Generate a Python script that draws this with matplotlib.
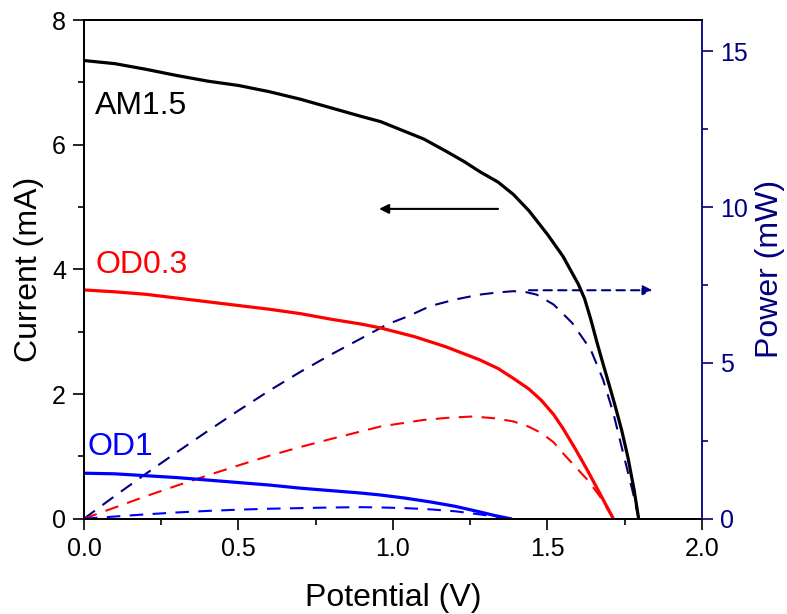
import matplotlib
matplotlib.use("Agg")
import matplotlib.pyplot as plt

plt.rcParams['font.family'] = ['Liberation Sans', 'DejaVu Sans']

NAVY = '#000080'

# AM1.5 illumination: current (mA) and power (mW) vs potential (V)
v_am = [0, 0.1, 0.2, 0.3, 0.4, 0.5, 0.6, 0.7, 0.8, 0.9, 0.96, 1.05, 1.1,
        1.17, 1.23, 1.28, 1.34, 1.39, 1.44, 1.5, 1.55, 1.6, 1.62, 1.64, 1.66,
        1.68, 1.70, 1.72, 1.74, 1.76, 1.78, 1.795]
i_am = [7.35, 7.30, 7.21, 7.11, 7.02, 6.95, 6.85, 6.73, 6.59, 6.45, 6.37,
        6.19, 6.09, 5.90, 5.73, 5.57, 5.40, 5.20, 4.94, 4.56, 4.21, 3.76,
        3.53, 3.20, 2.83, 2.48, 2.14, 1.79, 1.42, 0.99, 0.47, 0.0]
vp_am = [0, 0.1, 0.2, 0.3, 0.4, 0.5, 0.6, 0.7, 0.8, 0.9, 0.98, 1.05, 1.12,
         1.2, 1.28, 1.34, 1.39, 1.43, 1.465, 1.52, 1.58, 1.64, 1.68, 1.713,
         1.745, 1.777, 1.795]
p_am = [0, 0.73, 1.44, 2.13, 2.81, 3.47, 4.11, 4.71, 5.27, 5.80, 6.23, 6.50,
        6.82, 7.03, 7.19, 7.26, 7.30, 7.27, 7.19, 6.87, 6.28, 5.42, 4.46, 3.39,
        2.10, 0.82, 0]

# OD0.3 filter
v_03 = [0, 0.1, 0.2, 0.3, 0.4, 0.5, 0.6, 0.7, 0.8, 0.9, 0.96, 1.07, 1.17,
        1.28, 1.34, 1.39, 1.44, 1.48, 1.52, 1.55, 1.59, 1.63, 1.67, 1.713]
i_03 = [3.67, 3.64, 3.60, 3.54, 3.48, 3.42, 3.36, 3.29, 3.20, 3.12, 3.06,
        2.92, 2.76, 2.55, 2.41, 2.25, 2.08, 1.90, 1.67, 1.45, 1.12, 0.77,
        0.40, 0.0]
vp_03 = [0, 0.1, 0.2, 0.3, 0.4, 0.5, 0.6, 0.7, 0.8, 0.9, 0.96, 1.1, 1.18,
         1.26, 1.33, 1.39, 1.44, 1.48, 1.52, 1.55, 1.59, 1.63, 1.67, 1.713]
p_03 = [0, 0.36, 0.72, 1.06, 1.39, 1.71, 2.02, 2.30, 2.56, 2.81, 2.96, 3.17,
        3.24, 3.28, 3.22, 3.12, 2.95, 2.75, 2.45, 2.10, 1.67, 1.24, 0.71, 0]

# OD1 filter
v_1 = [0, 0.1, 0.2, 0.3, 0.4, 0.5, 0.6, 0.7, 0.8, 0.9, 0.96, 1.04, 1.12,
       1.2, 1.28, 1.33, 1.38]
i_1 = [0.73, 0.72, 0.69, 0.66, 0.62, 0.58, 0.54, 0.49, 0.45, 0.41, 0.38,
       0.33, 0.27, 0.20, 0.11, 0.05, 0.0]
p_1 = [0, 0.07, 0.14, 0.20, 0.25, 0.29, 0.32, 0.34, 0.36, 0.37, 0.36, 0.34,
       0.30, 0.24, 0.14, 0.07, 0]

fig = plt.figure(figsize=(7.87, 6.14), dpi=100)
ax = fig.add_axes([0.1067, 0.1552, 0.7853, 0.8122])
ax2 = ax.twinx()

dash = (6.5, 4.5)
ax2.plot(vp_am, p_am, color=NAVY, lw=1.5, dashes=dash)
ax2.plot(vp_03, p_03, color='red', lw=1.5, dashes=dash)
ax2.plot(v_1, p_1, color='blue', lw=1.5, dashes=dash)

ax.plot(v_am, i_am, color='black', lw=2.3)
ax.plot(v_03, i_03, color='red', lw=2.3)
ax.plot(v_1, i_1, color='blue', lw=2.3)
ax.set_zorder(ax2.get_zorder() + 1)
ax.patch.set_visible(False)

ax.set_xlim(0, 2.0)
ax.set_ylim(0, 8)
ax2.set_ylim(0, 16)

ax.set_xticks([0, 0.5, 1.0, 1.5, 2.0])
ax.set_xticks([0.25, 0.75, 1.25, 1.75], minor=True)
ax.set_xticklabels(['0.0', '0.5', '1.0', '1.5', '2.0'])
ax.set_yticks([0, 2, 4, 6, 8])
ax.set_yticks([1, 3, 5, 7], minor=True)
ax2.set_yticks([0, 5, 10, 15])
ax2.set_yticks([2.5, 7.5, 12.5], minor=True)

ax.tick_params(which='major', direction='out', length=8, width=1.2,
               labelsize=18, pad=5, top=False, right=False)
ax.tick_params(which='minor', direction='out', length=4.5, width=1.2,
               top=False, right=False)
ax2.tick_params(which='major', direction='out', length=8, width=1.2,
                labelsize=18, pad=5, colors=NAVY)
ax2.tick_params(which='minor', direction='out', length=4.5, width=1.2,
                colors=NAVY)

for s in ['left', 'bottom', 'top']:
    ax.spines[s].set_linewidth(1.3)
    ax2.spines[s].set_linewidth(1.3)
ax.spines['right'].set_visible(False)
ax2.spines['right'].set_color(NAVY)
ax2.spines['right'].set_linewidth(1.3)

ax.set_xlabel('Potential (V)', fontsize=23, labelpad=16)
ax.set_ylabel('Current (mA)', fontsize=23, labelpad=6)
ax2.set_ylabel('Power (mW)', fontsize=23, color=NAVY, labelpad=5)

ax.text(0.036, 6.62, 'AM1.5', fontsize=23, color='black', va='center')
ax.text(0.036, 4.07, 'OD0.3', fontsize=23, color='red', va='center')
ax.text(0.01, 1.15, 'OD1', fontsize=23, color='blue', va='center')

ax.annotate('', xy=(0.955, 4.97), xytext=(1.34, 4.97),
            arrowprops=dict(arrowstyle='-|>', color='black', lw=1.5,
                            mutation_scale=14, shrinkA=0, shrinkB=0))
ax2.annotate('', xy=(1.84, 7.33), xytext=(1.44, 7.33),
             arrowprops=dict(arrowstyle='-|>', color=NAVY, lw=1.5,
                             linestyle=(0, (4, 3)), mutation_scale=14,
                             shrinkA=0, shrinkB=0))

fig.savefig('out.png', dpi=100)
